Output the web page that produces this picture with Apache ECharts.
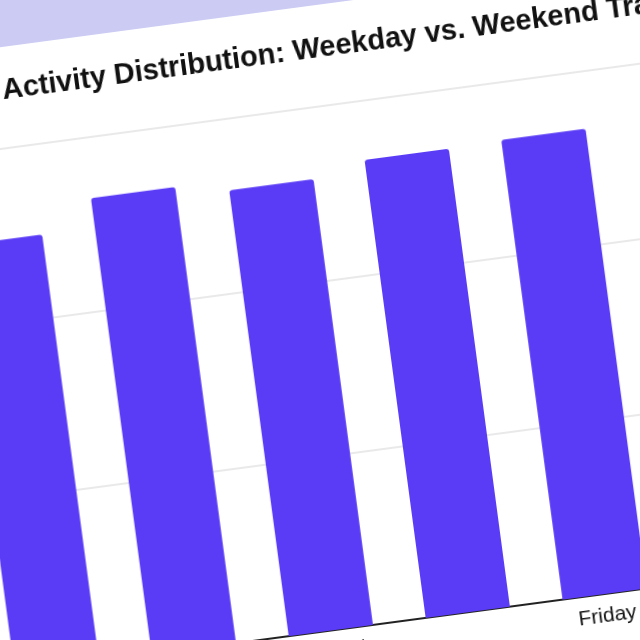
<!DOCTYPE html>
<html>
<head>
<meta charset="utf-8">
<script src="https://cdn.jsdelivr.net/npm/echarts@6/dist/echarts.min.js"></script>
<style>
html, body { margin: 0; padding: 0; width: 640px; height: 640px; overflow: hidden; background: #cbcbf4; }
#card {
    position: absolute; left: -291px; top: 86px;
    width: 1300px; height: 900px; background: #fff;
    transform: rotate(-7.6deg); transform-origin: 0 0;
}
</style>
</head>
<body>
<div id="card"></div>
<script>
// 数据
var days = ['Monday', 'Tuesday', 'Wednesday', 'Thursday', 'Friday', 'Saturday', 'Sunday'];
var activity = [24.8, 26.5, 25.9, 26.6, 26.7, 19.5, 16.8];

var chart = echarts.init(document.getElementById('card'));
var option = {
    animation: false,
    title: {
        text: 'Activity Distribution: Weekday vs. Weekend Traffic',
        left: 285,
        top: 24,
        textStyle: { fontFamily: 'Liberation Sans', fontSize: 29, fontWeight: 'bold', color: '#111' }
    },
    grid: { left: 199, top: 101, width: 967, height: 521 },
    xAxis: {
        type: 'category',
        data: days,
        axisLine: { lineStyle: { color: '#222', width: 2 } },
        axisTick: { show: false },
        axisLabel: { fontFamily: 'Liberation Sans', fontSize: 21, color: '#111', margin: 12 }
    },
    yAxis: {
        type: 'value',
        min: 0, max: 30, interval: 10,
        axisLabel: { fontFamily: 'Liberation Sans', fontSize: 18, color: '#555' },
        splitLine: { lineStyle: { color: '#e2e2e2', width: 1.5 } }
    },
    series: [{
        type: 'bar',
        data: activity,
        barWidth: 85,
        itemStyle: { color: '#5b3cf6', borderRadius: [3, 3, 0, 0] }
    }]
};
chart.setOption(option);
</script>
</body>
</html>
